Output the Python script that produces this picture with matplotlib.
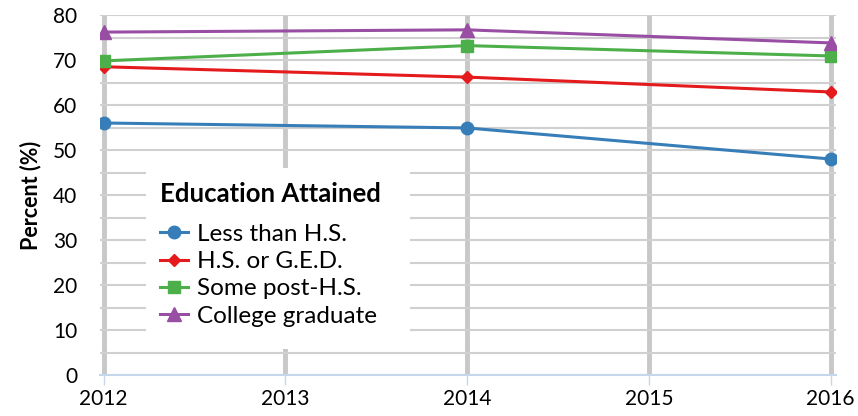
import matplotlib
matplotlib.use("Agg")
import matplotlib.pyplot as plt
from matplotlib.patches import Rectangle

plt.rcParams['font.family'] = ['Lato', 'DejaVu Sans']

years = [2012, 2014, 2016]
year_ticks = [2012, 2013, 2014, 2015, 2016]
less_hs = [56.0, 54.9, 48.0]
hs_ged = [68.5, 66.2, 62.9]
some_post = [69.8, 73.2, 70.9]
college = [76.2, 76.7, 73.8]

series = [
    ('Less than H.S.', less_hs, '#377eb8', 'o', 9),
    ('H.S. or G.E.D.', hs_ged, '#e41a1c', 'D', 6.5),
    ('Some post-H.S.', some_post, '#4daf4a', 's', 9),
    ('College graduate', college, '#984ea3', '^', 9.5),
]

fig = plt.figure(figsize=(8.58, 4.16), dpi=100)
ax = fig.add_axes([100 / 858, 41 / 416, 736 / 858, 360 / 416])
ax.set_axisbelow(True)

for label, vals, color, marker, ms in series:
    ax.plot(years, vals, color=color, marker=marker, markersize=ms,
            linewidth=2.2, label=label, zorder=3)

ax.set_xlim(2011.98, 2016.03)
ax.set_ylim(0, 80)
ax.set_yticks(range(0, 81, 10))
ax.set_yticks(range(0, 81, 5), minor=True)
ax.set_xticks(year_ticks)
ax.set_xticklabels([str(y) for y in year_ticks])

ax.grid(axis='y', which='both', color='#d0d0d0', linewidth=1.5)
ax.grid(axis='x', which='major', color='#c8c8c8', linewidth=3.5)

for side in ['top', 'right', 'left']:
    ax.spines[side].set_visible(False)
ax.spines['bottom'].set_color('#c5d7ea')
ax.spines['bottom'].set_linewidth(1.5)

ax.tick_params(axis='y', which='both', length=0, labelsize=15, pad=16.5)
ax.tick_params(axis='x', length=7, color='#c5d7ea', width=1, labelsize=15, pad=3)
ax.set_ylabel('Percent (%)', fontsize=15.5, fontweight='bold', labelpad=8)

# white box behind the legend, hides the grid there
ax.add_patch(Rectangle((0.0625, 0.072), 0.3587, 0.503, transform=ax.transAxes,
                       facecolor='white', edgecolor='none', zorder=1))

ax.text(0.0815, 0.503, 'Education Attained', transform=ax.transAxes,
        fontsize=18.5, fontweight='bold', ha='left', va='center', zorder=2)

leg = ax.legend(loc='upper left', bbox_to_anchor=(0.0815, 0.42),
                borderaxespad=0, borderpad=0, frameon=False, fontsize=17.5,
                handlelength=1.15, handletextpad=0.38, labelspacing=0.26)
leg.set_zorder(2)

fig.savefig('out.png', dpi=100)
